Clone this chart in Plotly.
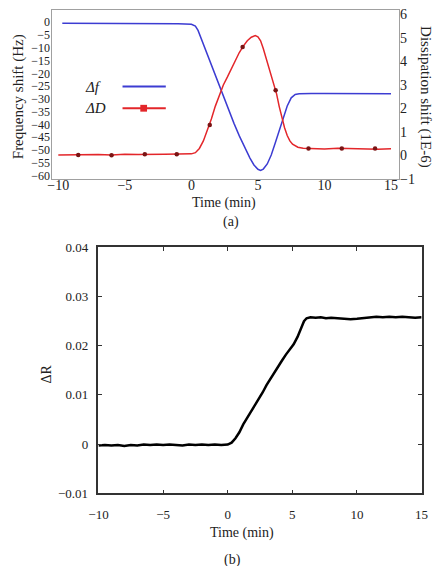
import plotly.graph_objects as go

W, H = 444, 566

# ---------------- data ----------------
# (a) frequency shift, Hz
t_f = [-9.7, -8, -6, -4, -2, -1, 0, 0.3, 0.5, 0.8, 1.2, 1.6, 2.0, 2.4, 2.8, 3.2, 3.6,
       4.0, 4.4, 4.7, 5.0, 5.2, 5.4, 5.7, 6.0, 6.3, 6.6, 6.9, 7.2, 7.5, 7.8, 8.1, 8.5,
       9, 10, 11, 12, 13, 14, 15]
f_vals = [-0.4, -0.4, -0.5, -0.5, -0.6, -0.6, -0.8, -1.5, -3.2, -7.3, -12.9, -18.5, -24.0,
          -29.3, -34.6, -39.6, -44.5, -49.0, -53.2, -55.9, -57.6, -58.0, -57.5, -55.5,
          -52.0, -47.3, -42.3, -37.3, -32.8, -29.6, -28.3, -28.0, -27.9, -27.9, -27.9,
          -27.9, -28.0, -27.9, -28.0, -28.0]

# (a) dissipation shift, 1E-6
t_D = [-10, -9, -8, -7, -6, -5, -4, -3, -2, -1, 0, 0.3, 0.6, 0.9, 1.2, 1.5, 1.8, 2.1,
       2.4, 2.7, 3.0, 3.3, 3.6, 3.9, 4.2, 4.5, 4.8, 5.0, 5.2, 5.4, 5.6, 5.8, 6.0, 6.2,
       6.4, 6.6, 6.8, 7.0, 7.2, 7.4, 7.6, 7.8, 8.0, 8.4, 9, 10, 11, 12, 13, 14, 15]
D_vals = [0.02, 0.03, 0.01, 0.04, 0.02, 0.05, 0.04, 0.06, 0.05, 0.06, 0.07, 0.12, 0.30,
          0.62, 1.05, 1.55, 2.10, 2.55, 3.00, 3.33, 3.70, 4.05, 4.38, 4.65, 4.88, 5.03,
          5.10, 5.05, 4.88, 4.55, 4.15, 3.80, 3.35, 2.98, 2.62, 2.08, 1.60, 1.18, 0.85,
          0.62, 0.48, 0.40, 0.35, 0.31, 0.30, 0.28, 0.31, 0.29, 0.30, 0.27, 0.29]

# (a) dissipation markers
t_mark = [-8.5, -6.0, -3.5, -1.1, 1.38, 3.85, 6.33, 8.8, 11.3, 13.8]
D_mark = [0.02, 0.01, 0.05, 0.05, 1.30, 4.61, 2.77, 0.30, 0.30, 0.30]

# (b) delta R
t_R = [-10, -9.5, -9, -8.5, -8, -7.5, -7, -6.5, -6, -5.5, -5, -4.5, -4, -3.5, -3, -2.5,
       -2, -1.5, -1, -0.5, 0, 0.3, 0.6, 0.9, 1.2, 1.5, 1.8, 2.1, 2.4, 2.7, 3.0, 3.3, 3.6,
       3.9, 4.2, 4.5, 4.8, 5.1, 5.4, 5.7, 5.9, 6.1, 6.4, 6.8, 7.2, 7.6, 8.0, 8.5, 9.0,
       9.5, 10, 10.5, 11, 11.5, 12, 12.5, 13, 13.5, 14, 14.5, 15]
R_vals = [-0.0003, -0.0002, -0.0003, -0.0002, -0.0004, -0.0002, -0.0003, -0.0001, -0.0002,
          -0.0001, -0.0002, -0.0001, -0.0002, -0.0003, -0.0001, -0.0002, -0.0001, -0.0002,
          -0.0001, -0.0002, -0.0001, 0.0003, 0.0012, 0.0024, 0.0040, 0.0053, 0.0064,
          0.0077, 0.0090, 0.0105, 0.0120, 0.0133, 0.0146, 0.0158, 0.0170, 0.0182, 0.0193,
          0.0203, 0.0218, 0.0238, 0.0250, 0.0256, 0.0258, 0.0257, 0.0258, 0.0256, 0.0257,
          0.0256, 0.0255, 0.0254, 0.0255, 0.0256, 0.0258, 0.0259, 0.0258, 0.0259, 0.0258,
          0.0259, 0.0258, 0.0257, 0.0258]

x_ticks = [-10, -5, 0, 5, 10, 15]
x_ticktext = ["\u221210", "\u22125", "0", "5", "10", "15"]
f_ticks = list(range(0, -65, -5))
f_ticktext = ["0"] + ["\u2212%d" % (-v) for v in f_ticks[1:]]
D_ticks = [-1, 0, 1, 2, 3, 4, 5, 6]
D_ticktext = ["\u22121", "0", "1", "2", "3", "4", "5", "6"]
R_ticks = [-0.01, 0, 0.01, 0.02, 0.03, 0.04]
R_ticktext = ["\u22120.01", "0", "0.01", "0.02", "0.03", "0.04"]

BLUE = "#3c3cd2"
RED = "#e3262a"
SERIF = "Liberation Serif, Times New Roman, serif"

def px(x):
    return x / W

def py(y):
    return 1 - y / H

fig = go.Figure()
fig.add_trace(go.Scatter(x=t_f, y=f_vals, mode="lines", line=dict(color=BLUE, width=1.5),
                         xaxis="x", yaxis="y", showlegend=False))
fig.add_trace(go.Scatter(x=t_D, y=D_vals, mode="lines", line=dict(color=RED, width=1.5),
                         xaxis="x", yaxis="y2", showlegend=False))
fig.add_trace(go.Scatter(x=t_mark, y=D_mark, mode="markers",
                         marker=dict(color="#7a1414", size=4.5, symbol="circle"),
                         xaxis="x", yaxis="y2", showlegend=False))
fig.add_trace(go.Scatter(x=t_R, y=R_vals, mode="lines", line=dict(color="black", width=2.5),
                         xaxis="x3", yaxis="y3", showlegend=False))

tickfont = dict(family=SERIF, size=14, color="#222")
ytickfont = dict(family=SERIF, size=12, color="#222")
gray = "#a0a0a0"

fig.update_layout(
    width=W, height=H, margin=dict(l=0, r=0, t=0, b=0),
    paper_bgcolor="white", plot_bgcolor="white", showlegend=False,
    font=dict(family=SERIF),
    xaxis=dict(domain=[px(44), px(404.5)], anchor="y", range=[-10.45, 15.6],
               tickvals=x_ticks, ticktext=x_ticktext, tickfont=tickfont,
               showline=True, linecolor=gray, linewidth=1, mirror=True,
               showgrid=False, zeroline=False, ticks="", ticklabelstandoff=-7),
    yaxis=dict(domain=[py(176.7), py(3.5)], anchor="x", range=[-61.4, 4.65],
               tickvals=f_ticks, ticktext=f_ticktext, tickfont=ytickfont,
               showline=True, linecolor=gray, linewidth=1, mirror=True,
               showgrid=False, zeroline=False, ticks="", ticklabelstandoff=-1),
    yaxis2=dict(overlaying="y", side="right", anchor="x", range=[-1, 6.17],
                tickvals=D_ticks, ticktext=D_ticktext, tickfont=tickfont,
                showline=False, showgrid=False, zeroline=False, ticks=""),
    xaxis3=dict(domain=[px(92), px(428)], anchor="y3", range=[-10, 15],
                tickvals=x_ticks, ticktext=x_ticktext,
                tickfont=dict(family=SERIF, size=13, color="#222"),
                showline=True, linecolor="#333", linewidth=1.5, mirror="ticks",
                ticks="inside", ticklen=4, tickcolor="#333",
                showgrid=False, zeroline=False, ticklabelstandoff=8),
    yaxis3=dict(domain=[py(499.5), py(247)], anchor="x3", range=[-0.01, 0.04],
                tickvals=R_ticks, ticktext=R_ticktext,
                tickfont=dict(family=SERIF, size=13, color="#222"),
                showline=True, linecolor="#333", linewidth=1.5, mirror="ticks",
                ticks="inside", ticklen=4, tickcolor="#333",
                showgrid=False, zeroline=False, ticklabelstandoff=6),
)

def ann(text, x, y, size=14, angle=0, italic=False, xanchor="center", yanchor="middle"):
    fig.add_annotation(text=text, x=px(x), y=py(y), xref="paper", yref="paper",
                       showarrow=False, textangle=angle, xanchor=xanchor, yanchor=yanchor,
                       font=dict(family=SERIF, size=size, color="#222",
                                 style="italic" if italic else "normal"))

ann("Frequency shift (Hz)", 9, 92, size=15, angle=-90)
ann("Dissipation shift (1E-6)", 432, 93, size=15, angle=90)
ann("Time (min)", 223, 201, size=14)
ann("(a)", 230, 221, size=14)
ann("\u0394R", 37, 377, size=14, angle=-90)
ann("Time (min)", 241, 540, size=14)
ann("(b)", 231, 558, size=14, yanchor="top")

# legend drawn inside panel (a)
ann("\u0394f", 76, 82, size=15, italic=True, xanchor="left")
ann("\u0394D", 76, 104, size=15, italic=True, xanchor="left")
fig.add_shape(type="line", xref="paper", yref="paper", x0=px(117), x1=px(162),
              y0=py(81.7), y1=py(81.7), line=dict(color=BLUE, width=2))
fig.add_shape(type="line", xref="paper", yref="paper", x0=px(117), x1=px(162),
              y0=py(104), y1=py(104), line=dict(color=RED, width=2))
fig.add_shape(type="rect", xref="paper", yref="paper", x0=px(135.5), x1=px(142.5),
              y0=py(107.5), y1=py(100.5), line=dict(color=RED, width=0), fillcolor=RED)

fig.write_html("out.html")
